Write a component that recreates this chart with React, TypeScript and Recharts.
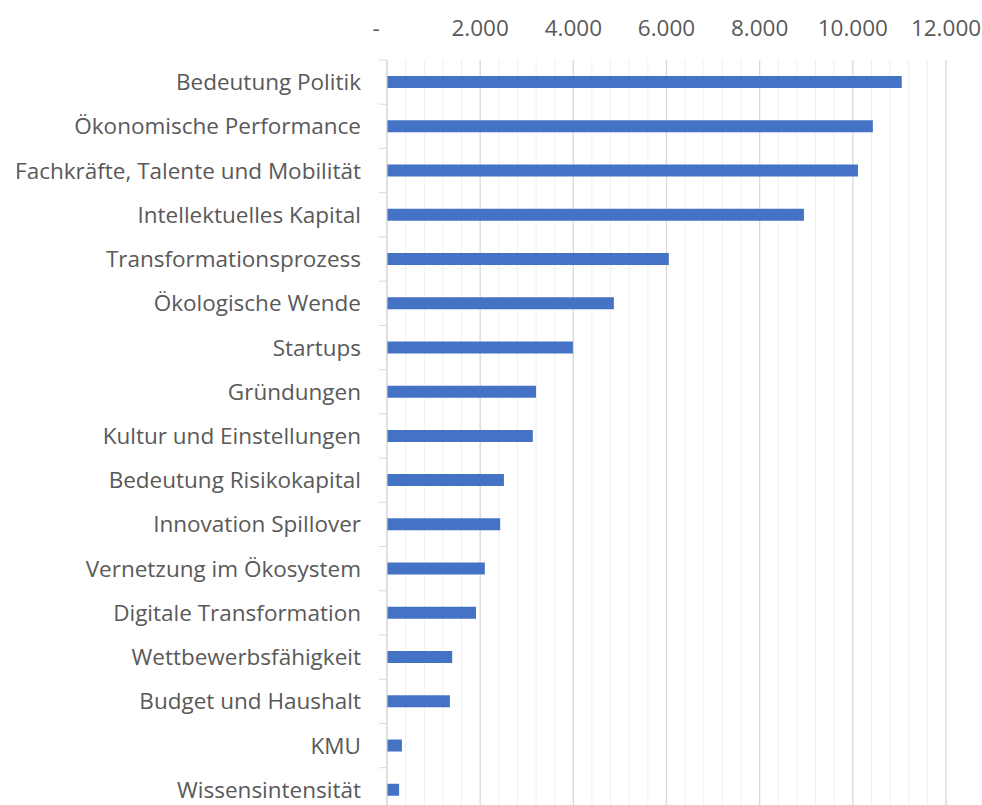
import { BarChart, Bar, XAxis, YAxis, CartesianGrid } from 'recharts';

const categories = [
    "Bedeutung Politik",
    "Ökonomische Performance",
    "Fachkräfte, Talente und Mobilität",
    "Intellektuelles Kapital",
    "Transformationsprozess",
    "Ökologische Wende",
    "Startups",
    "Gründungen",
    "Kultur und Einstellungen",
    "Bedeutung Risikokapital",
    "Innovation Spillover",
    "Vernetzung im Ökosystem",
    "Digitale Transformation",
    "Wettbewerbsfähigkeit",
    "Budget und Haushalt",
    "KMU",
    "Wissensintensität",
];

const values = [11050, 10430, 10110, 8950, 6050, 4870, 3990, 3200, 3130, 2510, 2430, 2100, 1910, 1400, 1350, 320, 260];

const X_MAX = 12000;
const majorTicks = [0, 2000, 4000, 6000, 8000, 10000, 12000];
const minorTicks = [400, 800, 1200, 1600, 2400, 2800, 3200, 3600, 4400, 4800, 5200, 5600, 6400, 6800, 7200, 7600, 8400, 8800, 9200, 9600, 10400, 10800, 11200, 11600];

const data = categories.map((name, i) => ({ name, value: values[i] }));

const FONT = "'Open Sans', sans-serif";
const TEXT = "#595959";
const FS = 22.5;

const fmt = (v: number) => v === 0 ? "-" : String(v).replace(/\B(?=(\d{3})+(?!\d))/g, ".");

const CHART_H = 822;
const MARGIN_TOP = 59;
const MARGIN_BOTTOM = 10;
const BAND = (CHART_H - MARGIN_TOP - MARGIN_BOTTOM) / categories.length;

function CatTick(props: any) {
    const { x, y, payload } = props;
    return (
        <g>
            <line x1={x + 18} x2={x + 25} y1={y - BAND / 2} y2={y - BAND / 2} stroke="#d9d9d9" />
            <text x={x} y={y} dy={8} textAnchor="end" fill={TEXT} fontSize={FS} fontFamily={FONT}>
                {payload.value}
            </text>
        </g>
    );
}

function ValTick(props: any) {
    const { x, y, payload } = props;
    return (
        <text x={payload.value === 0 ? x - 11 : x} y={y} textAnchor="middle" fill={TEXT} fontSize={FS} fontFamily={FONT}>
            {fmt(payload.value)}
        </text>
    );
}

// minor gridlines every 400
const minorLines = ({ xAxis, offset }: any) => {
    if (xAxis && typeof xAxis.scale === 'function') return minorTicks.map((t) => xAxis.scale(t));
    return minorTicks.map((t) => offset.left + (t / X_MAX) * offset.width);
};

export default function App() {
    return (
        <div style={{ position: 'absolute', left: 0, top: 0, background: '#fff' }}>
            <BarChart
                width={982}
                height={CHART_H}
                data={data}
                layout="vertical"
                margin={{ top: MARGIN_TOP, right: 36, left: 0, bottom: MARGIN_BOTTOM }}
            >
                <CartesianGrid horizontal={false} stroke="#efefef" verticalCoordinatesGenerator={minorLines} />
                <CartesianGrid horizontal={false} stroke="#d9d9d9" strokeWidth={1.3} />
                <XAxis
                    type="number"
                    orientation="top"
                    domain={[0, X_MAX]}
                    ticks={majorTicks}
                    axisLine={false}
                    tickLine={false}
                    height={1}
                    tick={<ValTick />}
                    tickMargin={18}
                />
                <YAxis
                    type="category"
                    dataKey="name"
                    width={387}
                    axisLine={{ stroke: '#d9d9d9' }}
                    tickLine={false}
                    tickMargin={20}
                    interval={0}
                    tick={<CatTick />}
                />
                <Bar dataKey="value" fill="#4472C4" barSize={12} isAnimationActive={false} />
            </BarChart>
        </div>
    );
}
